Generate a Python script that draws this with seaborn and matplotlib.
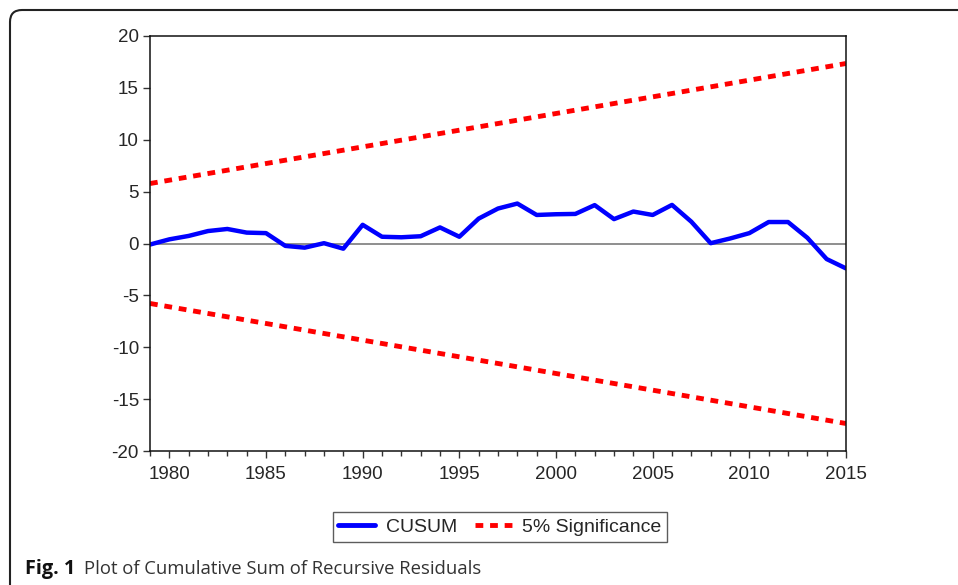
import numpy as np
import pandas as pd
import seaborn as sns
import matplotlib.pyplot as plt
from matplotlib.patches import FancyBboxPatch
from matplotlib.lines import Line2D
from matplotlib.ticker import MultipleLocator

# CUSUM of recursive residuals
years = list(range(1979, 2016))
cusum = [-0.1, 0.4, 0.73, 1.2, 1.4, 1.05, 1.0, -0.23, -0.4, 0.03,
         -0.5, 1.8, 0.65, 0.6, 0.7, 1.55, 0.65, 2.4, 3.37, 3.85,
         2.75, 2.82, 2.85, 3.7, 2.35, 3.08, 2.75, 3.72, 2.1, 0.03,
         0.48, 1.0, 2.07, 2.07, 0.55, -1.5, -2.4]

# 5% significance bounds (straight lines, endpoints only)
bound_years = [1979, 2015]
upper_bound = [5.78, 17.35]
lower_bound = [-5.78, -17.35]

df = pd.DataFrame({"year": years, "CUSUM": cusum})
bounds = pd.DataFrame({"year": bound_years, "upper": upper_bound, "lower": lower_bound})

sns.set_style("white")
plt.rcParams['font.family'] = ['Liberation Sans', 'DejaVu Sans']
plt.rcParams['axes.unicode_minus'] = False

fig = plt.figure(figsize=(9.58, 5.85), dpi=100)
ax = fig.add_axes([150/958, 1-451/585, 696/958, 415/585])

dash = (0, (1.6, 1.4))
sns.lineplot(data=bounds, x="year", y="upper", ax=ax, color="#ff0000", lw=3.5, linestyle=dash)
sns.lineplot(data=bounds, x="year", y="lower", ax=ax, color="#ff0000", lw=3.5, linestyle=dash)
ax.axhline(0, color="#707070", lw=1.1, zorder=1)
sns.lineplot(data=df, x="year", y="CUSUM", ax=ax, color="#0000ff", lw=3.2)

ax.set_xlim(1979, 2015)
ax.set_ylim(-20, 20)
ax.xaxis.set_major_locator(MultipleLocator(5))
ax.xaxis.set_minor_locator(MultipleLocator(1))
ax.yaxis.set_major_locator(MultipleLocator(5))
ax.set_xlabel("")
ax.set_ylabel("")
for s in ax.spines.values():
    s.set_color("#111111")
    s.set_linewidth(1.1)
ax.tick_params(axis='x', which='major', direction='out', length=5, width=1,
               color='#333333', labelsize=13.5, pad=6, bottom=True)
ax.tick_params(axis='x', which='minor', direction='out', length=3.5, width=1,
               color='#333333', bottom=True)
ax.tick_params(axis='y', which='major', direction='out', length=5, width=1,
               color='#333333', labelsize=13.5, pad=3, left=True)

handles = [Line2D([], [], color="#0000ff", lw=3.5),
           Line2D([], [], color="#ff0000", lw=3.5, linestyle=dash)]
leg = ax.legend(handles, ["CUSUM", "5% Significance"], loc='center',
                bbox_to_anchor=(500/958, 1-527/585), bbox_transform=fig.transFigure,
                ncol=2, frameon=True, fancybox=False, fontsize=14,
                handlelength=1.9, handletextpad=0.55, columnspacing=0.9,
                borderpad=0.3, borderaxespad=0)
leg.get_frame().set_edgecolor("#333333")
leg.get_frame().set_linewidth(1.0)

# rounded frame around the figure (pixel coordinates)
frame = FancyBboxPatch((10, -60), 1000, 585-10+60, boxstyle="round,pad=0,rounding_size=12",
                       transform=None, fill=False, edgecolor="#222222", lw=1.5)
fig.patches.append(frame)

fig.text(25/958, 1-569/585, "Fig. 1", fontfamily="Open Sans", fontweight="bold",
         fontsize=14.3, color="#111111", va='center')
fig.text(84/958, 1-569/585, "Plot of Cumulative Sum of Recursive Residuals",
         fontfamily="Open Sans", fontsize=13.3, color="#333333", va='center')

fig.savefig("out.png", dpi=100)
